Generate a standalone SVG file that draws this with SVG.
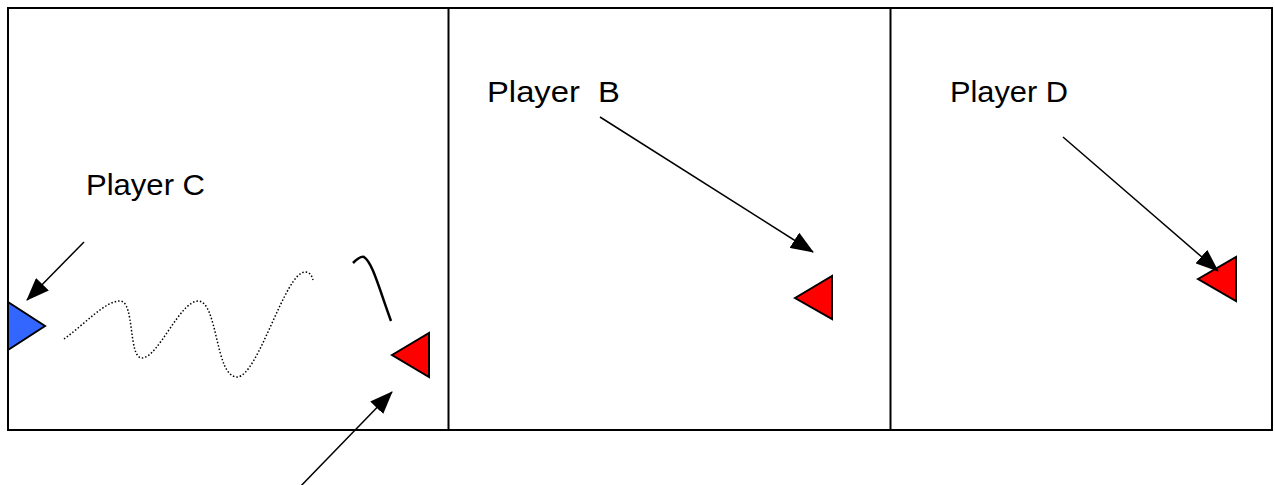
<svg xmlns="http://www.w3.org/2000/svg" width="1275" height="485" viewBox="0 0 1275 485">
<style>
.frame{fill:none;stroke:#000;stroke-width:2}
.lbl{font-family:"Liberation Sans",Arial,sans-serif;font-size:29px;fill:#000}
.con{stroke:#000;stroke-width:1.5;fill:none}
.red{fill:#ff0000;stroke:#000;stroke-width:2;stroke-linejoin:miter}
.blue{fill:#3366ff;stroke:#000;stroke-width:2}
</style>
<defs>
<marker id="ah" markerWidth="23" markerHeight="18" refX="22" refY="9" orient="auto" markerUnits="userSpaceOnUse">
<path d="M0,0 L23,9 L0,18 Z" fill="#000"/>
</marker>
</defs>
<g id="frame">
<rect class="frame" x="8" y="8" width="1264" height="422"/>
<line class="frame" x1="448.5" y1="8" x2="448.5" y2="430"/>
<line class="frame" x1="890.5" y1="8" x2="890.5" y2="430"/>
</g>
<g id="label-c"><text class="lbl" x="86" y="195" textLength="119" lengthAdjust="spacingAndGlyphs">Player C</text></g>
<g id="label-b"><text class="lbl" x="487" y="102" textLength="133" lengthAdjust="spacingAndGlyphs" xml:space="preserve">Player  B</text></g>
<g id="label-d"><text class="lbl" x="950" y="102" textLength="118" lengthAdjust="spacingAndGlyphs">Player D</text></g>
<g id="player-c"><polygon class="blue" points="8,302 45,326 8,350"/></g>
<g id="player-a"><polygon class="red" points="392,355 429,333 429,377"/></g>
<g id="player-b"><polygon class="red" points="795,298 832,276 832,319"/></g>
<g id="player-d"><polygon class="red" points="1198,279 1236,257 1236,301"/></g>
<g id="paths">
<path d="M64,339 C85,324 105,301 120,301 C135,301 128,358 142,358 C158,358 180,301 198,301 C218,301 215,377 237,377 C258,377 285,272 305,272 C310,272 312,276 313,280" fill="none" stroke="#000" stroke-width="1.5" stroke-dasharray="1.5,2"/>
<path d="M353,263 C357,259 361,256 364,257 C372,262 378,285 391,321" fill="none" stroke="#000" stroke-width="2.5"/>
</g>
<g id="connectors">
<line class="con" x1="84" y1="242" x2="27" y2="300" marker-end="url(#ah)"/>
<line class="con" x1="297" y1="490" x2="392" y2="392" marker-end="url(#ah)"/>
<line class="con" x1="600" y1="117" x2="813" y2="252" marker-end="url(#ah)"/>
<line class="con" x1="1063" y1="137" x2="1218" y2="271" marker-end="url(#ah)"/>
</g>
</svg>
